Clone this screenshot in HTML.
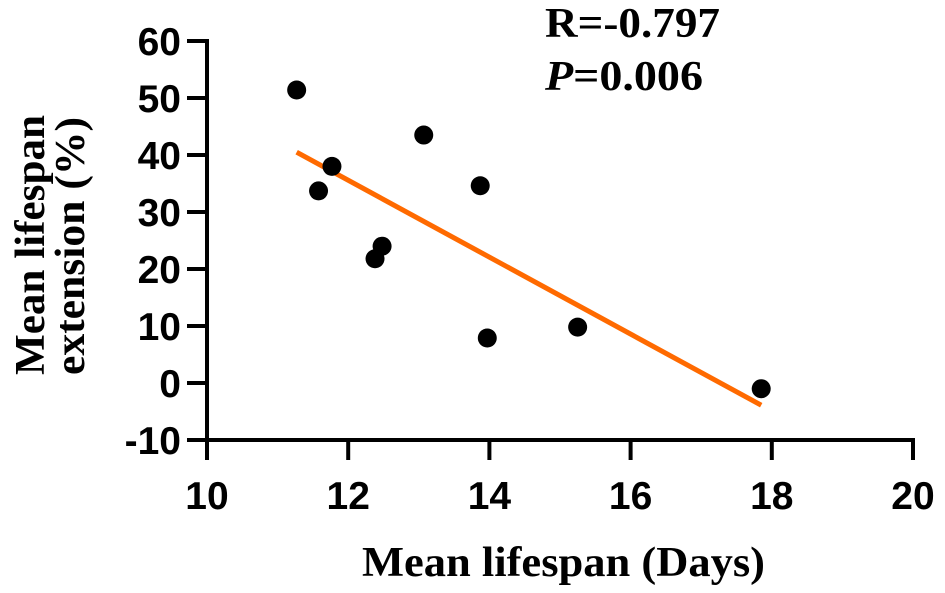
<!DOCTYPE html>
<html><head><meta charset="utf-8"><style>
html,body{margin:0;padding:0;background:#fff;}
svg{display:block;}
.tick{font-family:"Liberation Sans",sans-serif;font-weight:bold;font-size:39px;fill:#000;}
.title{font-family:"Liberation Serif",serif;font-weight:bold;font-size:42px;fill:#000;}
</style></head><body>
<svg id="chart" width="945" height="593" viewBox="0 0 945 593"></svg>
<script>
const xTicks=[10,12,14,16,18,20];
const yTicks=[-10,0,10,20,30,40,50,60];
const xValues=[11.27,11.58,11.77,12.38,12.48,13.07,13.87,13.97,15.25,17.85];
const yValues=[51.4,33.7,38.0,21.8,24.0,43.5,34.6,7.9,9.8,-1.0];
const fitX=[11.27,17.85];
const fitY=[40.5,-3.9];
const NS='http://www.w3.org/2000/svg';
const svg=document.getElementById('chart');
const X0=207,XS=70.6,Y0=383,YS=5.7;
function sx(v){return X0+(v-10)*XS;}
function sy(v){return Y0-v*YS;}
function mk(t,a,p){const e=document.createElementNS(NS,t);for(const k in a)e.setAttribute(k,a[k]);(p||svg).appendChild(e);return e;}
const yAxis=mk('line',{x1:sx(10),y1:sy(60)-2,x2:sx(10),y2:sy(-10)+2,stroke:'#000','stroke-width':4});


const xAxis=mk('line',{x1:sx(10)-2,y1:sy(-10),x2:sx(20)+2,y2:sy(-10),stroke:'#000','stroke-width':4});


yTicks.forEach(v=>{
  mk('line',{x1:sx(10)-20,y1:sy(v),x2:sx(10),y2:sy(v),stroke:'#000','stroke-width':4});
  const t=mk('text',{x:sx(10)-26,y:sy(v)+14,'text-anchor':'end',class:'tick'});
  t.textContent=v;
  
  
});
xTicks.forEach(v=>{
  mk('line',{x1:sx(v),y1:sy(-10),x2:sx(v),y2:sy(-10)+20,stroke:'#000','stroke-width':4});
  const t=mk('text',{x:sx(v),y:sy(-10)+69,'text-anchor':'middle',class:'tick'});
  t.textContent=v;
  
  
});
const fl=mk('line',{x1:sx(fitX[0]),y1:sy(fitY[0]),x2:sx(fitX[1]),y2:sy(fitY[1]),stroke:'#ff6a00','stroke-width':5});


xValues.forEach((x,i)=>{
  const c=mk('circle',{cx:sx(x),cy:sy(yValues[i]),r:9.5,fill:'#000'});
  
  
});
const xt=mk('text',{x:362,y:576,textLength:403,lengthAdjust:'spacingAndGlyphs',class:'title'});
xt.textContent='Mean lifespan (Days)';


const yt=mk('text',{transform:'translate(44,245) rotate(-90)',class:'title'});


const t1=mk('tspan',{x:-130,y:0,textLength:260,lengthAdjust:'spacingAndGlyphs'},yt);t1.textContent='Mean lifespan';
const t2=mk('tspan',{x:-130,y:40,textLength:258,lengthAdjust:'spacingAndGlyphs'},yt);t2.textContent='extension (%)';
const r=mk('text',{x:545,y:37,textLength:175,lengthAdjust:'spacingAndGlyphs',class:'title'});
r.textContent='R=-0.797';


const p=mk('text',{x:545,y:90,textLength:158,lengthAdjust:'spacingAndGlyphs',class:'title'});


const pi=mk('tspan',{'font-style':'italic'},p);pi.textContent='P';
const pv=mk('tspan',{},p);pv.textContent='=0.006';
</script>
</body></html>
